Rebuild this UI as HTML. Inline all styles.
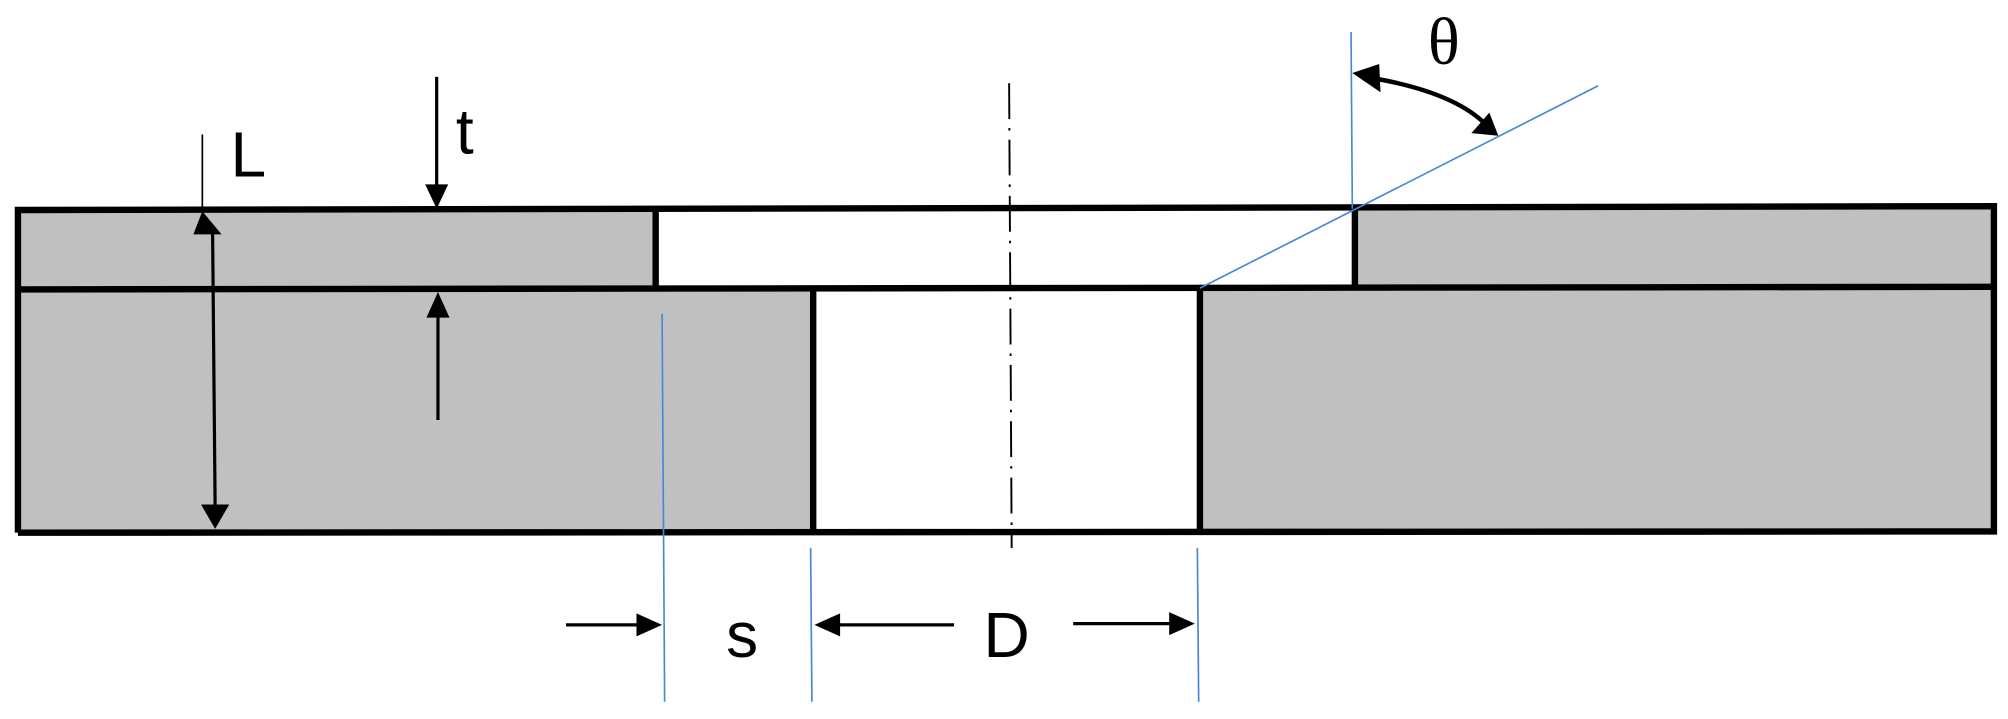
<!DOCTYPE html>
<html><head><meta charset="utf-8"><style>html,body{margin:0;padding:0;background:#fff}svg{display:block}</style></head>
<body>
<svg width="2008" height="719" viewBox="0 0 1568 561.5" preserveAspectRatio="none" xmlns="http://www.w3.org/2000/svg">
<rect x="15" y="164" width="497" height="61" fill="#c0c0c0"/>
<rect x="1058" y="163" width="499" height="62" fill="#c0c0c0"/>
<rect x="15" y="225" width="620" height="190" fill="#c0c0c0"/>
<rect x="937" y="225" width="620" height="190" fill="#c0c0c0"/>
<g stroke="#000" stroke-width="5" fill="none">
<polyline points="14,416 14,164 1557,161 1557,415 14,416"/>
<line x1="14" y1="226" x2="1557" y2="224"/>
<line x1="512" y1="164" x2="512" y2="226"/>
<line x1="1058" y1="163" x2="1058" y2="225"/>
<line x1="635" y1="226" x2="635" y2="415"/>
<line x1="937" y1="225" x2="937" y2="415"/>
</g>
<line x1="788" y1="65" x2="790" y2="428" stroke="#000" stroke-width="1.5" stroke-dasharray="28,7,2,7"/>
<g stroke="#4a86d8" stroke-width="1.3">
<line x1="517" y1="245" x2="519" y2="548"/>
<line x1="633" y1="428" x2="634" y2="548"/>
<line x1="935" y1="428" x2="936" y2="548"/>
<line x1="1055" y1="25" x2="1056" y2="163"/>
<line x1="937" y1="225" x2="1248" y2="67"/>
</g>
<g stroke="#000" fill="none">
<line x1="158" y1="105" x2="158" y2="163" stroke-width="1.3"/>
<line x1="166" y1="180" x2="168" y2="398" stroke-width="2.5"/>
<line x1="341" y1="60" x2="341" y2="146" stroke-width="2.5"/>
<line x1="342" y1="245" x2="342" y2="328" stroke-width="2.5"/>
<line x1="442" y1="488" x2="500" y2="488" stroke-width="2.5"/>
<line x1="655" y1="488" x2="745" y2="488" stroke-width="2.5"/>
<line x1="838" y1="487" x2="915" y2="487" stroke-width="2.5"/>
<path d="M1072,61 Q1135,72 1160,97" stroke-width="3.5"/>
</g>
<g fill="#000">
<polygon points="158,165 151,183 173,183"/>
<polygon points="168,413 157,394 179,394"/>
<polygon points="341,163 332,144 350,144"/>
<polygon points="342,228 333,248 351,248"/>
<polygon points="517,488 497,479 497,497"/>
<polygon points="636,488 656,479 656,497"/>
<polygon points="933,487 913,478 913,496"/>
<polygon points="1056,57 1077,50 1078,72"/>
<polygon points="1170,106 1149,104 1163,88"/>
</g>
<g font-family="Liberation Sans, DejaVu Sans, sans-serif" font-size="50" fill="#000">
<text x="180" y="138">L</text>
<text x="356" y="120">t</text>
<text x="567" y="513">s</text>
<text x="768" y="513">D</text>
</g>
<text x="1115" y="50" font-family="Liberation Serif, DejaVu Serif, serif" font-size="52" fill="#000">θ</text>
</svg>
</body></html>
